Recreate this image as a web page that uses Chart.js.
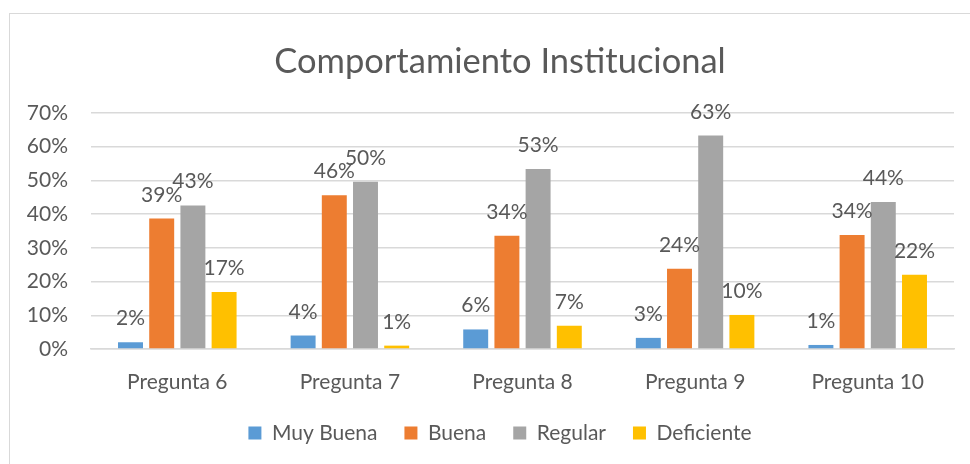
<!DOCTYPE html>
<html>
<head>
<meta charset="utf-8">
<script src="https://cdn.jsdelivr.net/npm/chart.js@4/dist/chart.umd.min.js"></script>
<style>
  html, body { margin: 0; padding: 0; background: #fff; overflow: hidden; }
  #frame { position: absolute; left: 9px; top: 13px; width: 990px; height: 500px; border: 1px solid #d9d9d9; }
  #wrap { position: absolute; left: 0; top: 0; width: 980px; height: 450px; }
</style>
</head>
<body>
<div id="frame"><div id="wrap"><canvas id="c" width="980" height="450"></canvas></div></div>
<script>
const titleText = "Comportamiento Institucional";
const categories = ["Pregunta 6", "Pregunta 7", "Pregunta 8", "Pregunta 9", "Pregunta 10"];
const seriesNames = ["Muy Buena", "Buena", "Regular", "Deficiente"];
const muyBuena   = [0.020, 0.040, 0.058, 0.033, 0.012];
const buena      = [0.387, 0.456, 0.336, 0.238, 0.338];
const regular    = [0.426, 0.496, 0.534, 0.633, 0.436];
const deficiente = [0.169, 0.010, 0.069, 0.101, 0.220];
const yTicks = [0, 0.1, 0.2, 0.3, 0.4, 0.5, 0.6, 0.7];
const colors = ["#5B9BD5", "#ED7D31", "#A5A5A5", "#FFC000"];

const FONT = "Lato";
const TXT = "#595959";

const dataLabels = {
  id: "dataLabels",
  afterDatasetsDraw(chart) {
    const ctx = chart.ctx;
    ctx.save();
    ctx.font = "21px " + FONT;
    ctx.fillStyle = TXT;
    ctx.textAlign = "center";
    ctx.textBaseline = "alphabetic";
    chart.data.datasets.forEach((ds, i) => {
      const meta = chart.getDatasetMeta(i);
      meta.data.forEach((el, j) => {
        const v = ds.data[j];
        ctx.fillText(Math.round(v * 100) + "%", el.x, el.y - 17);
      });
    });
    ctx.restore();
  }
};

const seriesData = [muyBuena, buena, regular, deficiente];

new Chart(document.getElementById("c"), {
  type: "bar",
  data: {
    labels: categories,
    datasets: seriesNames.map((n, i) => ({
      label: n,
      data: seriesData[i],
      backgroundColor: colors[i],
      borderWidth: 0,
      categoryPercentage: 0.723,
      barPercentage: 0.8
    }))
  },
  options: {
    responsive: false,
    animation: false,
    devicePixelRatio: 1,
    layout: { padding: { left: 0, right: 0, top: 0, bottom: 10.5 } },
    plugins: {
      tooltip: { enabled: false },
      title: {
        display: true,
        text: titleText,
        color: TXT,
        font: { family: FONT, size: 34.5, weight: "normal", lineHeight: 1.2 },
        padding: { top: 27, bottom: 30.6 }
      },
      legend: {
        position: "bottom",
        labels: {
          color: TXT,
          font: { family: FONT, size: 21 },
          boxWidth: 13,
          boxHeight: 13,
          padding: 27
        }
      }
    },
    scales: {
      x: {
        grid: { display: false, drawTicks: false },
        border: { display: true, color: "#d9d9d9", width: 1.5 },
        ticks: { color: TXT, font: { family: FONT, size: 21 }, padding: 21, maxRotation: 0 },
        afterFit(s) { s.height = 46.5; }
      },
      y: {
        min: 0,
        max: 0.7,
        afterBuildTicks(s) { s.ticks = yTicks.map(v => ({ value: v })); },
        grid: { color: "#d9d9d9", lineWidth: 1.5, drawTicks: false },
        border: { display: false },
        ticks: {
          color: TXT,
          font: { family: FONT, size: 21 },
          padding: 23,
          callback: v => Math.round(v * 100) + "%"
        },
        afterFit(s) { s.width = 81; }
      },
      yRight: {
        position: "right",
        min: 0,
        max: 0.7,
        grid: { drawOnChartArea: false, drawTicks: false },
        border: { display: false },
        ticks: { display: false },
        afterFit(s) { s.width = 36; }
      }
    }
  },
  plugins: [dataLabels]
});
</script>
</body>
</html>
